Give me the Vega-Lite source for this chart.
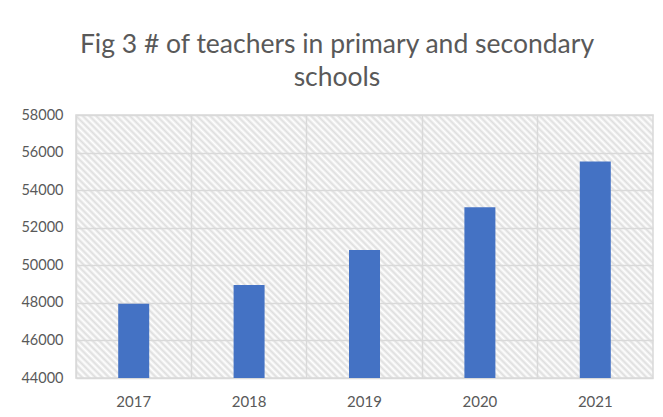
{
  "$schema": "https://vega.github.io/schema/vega-lite/v6.json",
  "width": 577,
  "height": 263,
  "padding": {"left": 20, "top": 31, "right": 10, "bottom": 5},
  "background": "white",
  "title": {
    "text": ["Fig 3 # of teachers in primary and secondary", "schools"],
    "font": "Lato",
    "fontSize": 26.5,
    "fontWeight": "normal",
    "color": "#595959",
    "lineHeight": 33,
    "anchor": "middle",
    "frame": "bounds",
    "offset": 16
  },
  "data": {
    "values": [
      {"year": "2017", "teachers": 47950},
      {"year": "2018", "teachers": 48950},
      {"year": "2019", "teachers": 50820},
      {"year": "2020", "teachers": 53090},
      {"year": "2021", "teachers": 55530}
    ]
  },
  "mark": {"type": "bar", "width": 31, "color": "#4472c4", "clip": true},
  "encoding": {
    "x": {
      "field": "year",
      "type": "nominal",
      "scale": {"paddingInner": 0, "paddingOuter": 0},
      "axis": {
        "title": null,
        "labelAngle": 0,
        "labelFont": "Lato",
        "labelFontSize": 15,
        "labelColor": "#595959",
        "labelPadding": 16,
        "ticks": false,
        "domain": false,
        "grid": true,
        "bandPosition": 0,
        "gridColor": "#d9d9d9",
        "gridWidth": 1.5
      }
    },
    "y": {
      "field": "teachers",
      "type": "quantitative",
      "scale": {"domain": [44000, 58000], "nice": false, "zero": false},
      "axis": {
        "title": null,
        "values": [44000, 46000, 48000, 50000, 52000, 54000, 56000, 58000],
        "format": "d",
        "labelFont": "Lato",
        "labelFontSize": 14.5,
        "labelColor": "#595959",
        "labelPadding": 13,
        "ticks": false,
        "domain": false,
        "gridColor": "#d9d9d9",
        "gridWidth": 1.5
      }
    }
  },
  "config": {
    "view": {
      "stroke": "#d9d9d9",
      "strokeWidth": 1.5,
      "fill": {
        "gradient": "linear",
        "x1": 0, "y1": 1, "x2": 1.2054, "y2": 0.4506,
        "stops": [
          {"offset": 0, "color": "#dedede"}, {"offset": 0.004, "color": "#ffffff"},
          {"offset": 0.008, "color": "#dedede"}, {"offset": 0.012, "color": "#ffffff"},
          {"offset": 0.016, "color": "#dedede"}, {"offset": 0.02, "color": "#ffffff"},
          {"offset": 0.024, "color": "#dedede"}, {"offset": 0.028, "color": "#ffffff"},
          {"offset": 0.032, "color": "#dedede"}, {"offset": 0.036, "color": "#ffffff"},
          {"offset": 0.04, "color": "#dedede"}, {"offset": 0.044, "color": "#ffffff"},
          {"offset": 0.048, "color": "#dedede"}, {"offset": 0.052, "color": "#ffffff"},
          {"offset": 0.056, "color": "#dedede"}, {"offset": 0.06, "color": "#ffffff"},
          {"offset": 0.064, "color": "#dedede"}, {"offset": 0.068, "color": "#ffffff"},
          {"offset": 0.072, "color": "#dedede"}, {"offset": 0.076, "color": "#ffffff"},
          {"offset": 0.08, "color": "#dedede"}, {"offset": 0.084, "color": "#ffffff"},
          {"offset": 0.088, "color": "#dedede"}, {"offset": 0.092, "color": "#ffffff"},
          {"offset": 0.096, "color": "#dedede"}, {"offset": 0.1, "color": "#ffffff"},
          {"offset": 0.104, "color": "#dedede"}, {"offset": 0.108, "color": "#ffffff"},
          {"offset": 0.112, "color": "#dedede"}, {"offset": 0.116, "color": "#ffffff"},
          {"offset": 0.12, "color": "#dedede"}, {"offset": 0.124, "color": "#ffffff"},
          {"offset": 0.128, "color": "#dedede"}, {"offset": 0.132, "color": "#ffffff"},
          {"offset": 0.136, "color": "#dedede"}, {"offset": 0.14, "color": "#ffffff"},
          {"offset": 0.144, "color": "#dedede"}, {"offset": 0.148, "color": "#ffffff"},
          {"offset": 0.152, "color": "#dedede"}, {"offset": 0.156, "color": "#ffffff"},
          {"offset": 0.16, "color": "#dedede"}, {"offset": 0.164, "color": "#ffffff"},
          {"offset": 0.168, "color": "#dedede"}, {"offset": 0.172, "color": "#ffffff"},
          {"offset": 0.176, "color": "#dedede"}, {"offset": 0.18, "color": "#ffffff"},
          {"offset": 0.184, "color": "#dedede"}, {"offset": 0.188, "color": "#ffffff"},
          {"offset": 0.192, "color": "#dedede"}, {"offset": 0.196, "color": "#ffffff"},
          {"offset": 0.2, "color": "#dedede"}, {"offset": 0.204, "color": "#ffffff"},
          {"offset": 0.208, "color": "#dedede"}, {"offset": 0.212, "color": "#ffffff"},
          {"offset": 0.216, "color": "#dedede"}, {"offset": 0.22, "color": "#ffffff"},
          {"offset": 0.224, "color": "#dedede"}, {"offset": 0.228, "color": "#ffffff"},
          {"offset": 0.232, "color": "#dedede"}, {"offset": 0.236, "color": "#ffffff"},
          {"offset": 0.24, "color": "#dedede"}, {"offset": 0.244, "color": "#ffffff"},
          {"offset": 0.248, "color": "#dedede"}, {"offset": 0.252, "color": "#ffffff"},
          {"offset": 0.256, "color": "#dedede"}, {"offset": 0.26, "color": "#ffffff"},
          {"offset": 0.264, "color": "#dedede"}, {"offset": 0.268, "color": "#ffffff"},
          {"offset": 0.272, "color": "#dedede"}, {"offset": 0.276, "color": "#ffffff"},
          {"offset": 0.28, "color": "#dedede"}, {"offset": 0.284, "color": "#ffffff"},
          {"offset": 0.288, "color": "#dedede"}, {"offset": 0.292, "color": "#ffffff"},
          {"offset": 0.296, "color": "#dedede"}, {"offset": 0.3, "color": "#ffffff"},
          {"offset": 0.304, "color": "#dedede"}, {"offset": 0.308, "color": "#ffffff"},
          {"offset": 0.312, "color": "#dedede"}, {"offset": 0.316, "color": "#ffffff"},
          {"offset": 0.32, "color": "#dedede"}, {"offset": 0.324, "color": "#ffffff"},
          {"offset": 0.328, "color": "#dedede"}, {"offset": 0.332, "color": "#ffffff"},
          {"offset": 0.336, "color": "#dedede"}, {"offset": 0.34, "color": "#ffffff"},
          {"offset": 0.344, "color": "#dedede"}, {"offset": 0.348, "color": "#ffffff"},
          {"offset": 0.352, "color": "#dedede"}, {"offset": 0.356, "color": "#ffffff"},
          {"offset": 0.36, "color": "#dedede"}, {"offset": 0.364, "color": "#ffffff"},
          {"offset": 0.368, "color": "#dedede"}, {"offset": 0.372, "color": "#ffffff"},
          {"offset": 0.376, "color": "#dedede"}, {"offset": 0.38, "color": "#ffffff"},
          {"offset": 0.384, "color": "#dedede"}, {"offset": 0.388, "color": "#ffffff"},
          {"offset": 0.392, "color": "#dedede"}, {"offset": 0.396, "color": "#ffffff"},
          {"offset": 0.4, "color": "#dedede"}, {"offset": 0.404, "color": "#ffffff"},
          {"offset": 0.408, "color": "#dedede"}, {"offset": 0.412, "color": "#ffffff"},
          {"offset": 0.416, "color": "#dedede"}, {"offset": 0.42, "color": "#ffffff"},
          {"offset": 0.424, "color": "#dedede"}, {"offset": 0.428, "color": "#ffffff"},
          {"offset": 0.432, "color": "#dedede"}, {"offset": 0.436, "color": "#ffffff"},
          {"offset": 0.44, "color": "#dedede"}, {"offset": 0.444, "color": "#ffffff"},
          {"offset": 0.448, "color": "#dedede"}, {"offset": 0.452, "color": "#ffffff"},
          {"offset": 0.456, "color": "#dedede"}, {"offset": 0.46, "color": "#ffffff"},
          {"offset": 0.464, "color": "#dedede"}, {"offset": 0.468, "color": "#ffffff"},
          {"offset": 0.472, "color": "#dedede"}, {"offset": 0.476, "color": "#ffffff"},
          {"offset": 0.48, "color": "#dedede"}, {"offset": 0.484, "color": "#ffffff"},
          {"offset": 0.488, "color": "#dedede"}, {"offset": 0.492, "color": "#ffffff"},
          {"offset": 0.496, "color": "#dedede"}, {"offset": 0.5, "color": "#ffffff"},
          {"offset": 0.504, "color": "#dedede"}, {"offset": 0.508, "color": "#ffffff"},
          {"offset": 0.512, "color": "#dedede"}, {"offset": 0.516, "color": "#ffffff"},
          {"offset": 0.52, "color": "#dedede"}, {"offset": 0.524, "color": "#ffffff"},
          {"offset": 0.528, "color": "#dedede"}, {"offset": 0.532, "color": "#ffffff"},
          {"offset": 0.536, "color": "#dedede"}, {"offset": 0.54, "color": "#ffffff"},
          {"offset": 0.544, "color": "#dedede"}, {"offset": 0.548, "color": "#ffffff"},
          {"offset": 0.552, "color": "#dedede"}, {"offset": 0.556, "color": "#ffffff"},
          {"offset": 0.56, "color": "#dedede"}, {"offset": 0.564, "color": "#ffffff"},
          {"offset": 0.568, "color": "#dedede"}, {"offset": 0.572, "color": "#ffffff"},
          {"offset": 0.576, "color": "#dedede"}, {"offset": 0.58, "color": "#ffffff"},
          {"offset": 0.584, "color": "#dedede"}, {"offset": 0.588, "color": "#ffffff"},
          {"offset": 0.592, "color": "#dedede"}, {"offset": 0.596, "color": "#ffffff"},
          {"offset": 0.6, "color": "#dedede"}, {"offset": 0.604, "color": "#ffffff"},
          {"offset": 0.608, "color": "#dedede"}, {"offset": 0.612, "color": "#ffffff"},
          {"offset": 0.616, "color": "#dedede"}, {"offset": 0.62, "color": "#ffffff"},
          {"offset": 0.624, "color": "#dedede"}, {"offset": 0.628, "color": "#ffffff"},
          {"offset": 0.632, "color": "#dedede"}, {"offset": 0.636, "color": "#ffffff"},
          {"offset": 0.64, "color": "#dedede"}, {"offset": 0.644, "color": "#ffffff"},
          {"offset": 0.648, "color": "#dedede"}, {"offset": 0.652, "color": "#ffffff"},
          {"offset": 0.656, "color": "#dedede"}, {"offset": 0.66, "color": "#ffffff"},
          {"offset": 0.664, "color": "#dedede"}, {"offset": 0.668, "color": "#ffffff"},
          {"offset": 0.672, "color": "#dedede"}, {"offset": 0.676, "color": "#ffffff"},
          {"offset": 0.68, "color": "#dedede"}, {"offset": 0.684, "color": "#ffffff"},
          {"offset": 0.688, "color": "#dedede"}, {"offset": 0.692, "color": "#ffffff"},
          {"offset": 0.696, "color": "#dedede"}, {"offset": 0.7, "color": "#ffffff"},
          {"offset": 0.704, "color": "#dedede"}, {"offset": 0.708, "color": "#ffffff"},
          {"offset": 0.712, "color": "#dedede"}, {"offset": 0.716, "color": "#ffffff"},
          {"offset": 0.72, "color": "#dedede"}, {"offset": 0.724, "color": "#ffffff"},
          {"offset": 0.728, "color": "#dedede"}, {"offset": 0.732, "color": "#ffffff"},
          {"offset": 0.736, "color": "#dedede"}, {"offset": 0.74, "color": "#ffffff"},
          {"offset": 0.744, "color": "#dedede"}, {"offset": 0.748, "color": "#ffffff"},
          {"offset": 0.752, "color": "#dedede"}, {"offset": 0.756, "color": "#ffffff"},
          {"offset": 0.76, "color": "#dedede"}, {"offset": 0.764, "color": "#ffffff"},
          {"offset": 0.768, "color": "#dedede"}, {"offset": 0.772, "color": "#ffffff"},
          {"offset": 0.776, "color": "#dedede"}, {"offset": 0.78, "color": "#ffffff"},
          {"offset": 0.784, "color": "#dedede"}, {"offset": 0.788, "color": "#ffffff"},
          {"offset": 0.792, "color": "#dedede"}, {"offset": 0.796, "color": "#ffffff"},
          {"offset": 0.8, "color": "#dedede"}, {"offset": 0.804, "color": "#ffffff"},
          {"offset": 0.808, "color": "#dedede"}, {"offset": 0.812, "color": "#ffffff"},
          {"offset": 0.816, "color": "#dedede"}, {"offset": 0.82, "color": "#ffffff"},
          {"offset": 0.824, "color": "#dedede"}, {"offset": 0.828, "color": "#ffffff"},
          {"offset": 0.832, "color": "#dedede"}, {"offset": 0.836, "color": "#ffffff"},
          {"offset": 0.84, "color": "#dedede"}, {"offset": 0.844, "color": "#ffffff"},
          {"offset": 0.848, "color": "#dedede"}, {"offset": 0.852, "color": "#ffffff"},
          {"offset": 0.856, "color": "#dedede"}, {"offset": 0.86, "color": "#ffffff"},
          {"offset": 0.864, "color": "#dedede"}, {"offset": 0.868, "color": "#ffffff"},
          {"offset": 0.872, "color": "#dedede"}, {"offset": 0.876, "color": "#ffffff"},
          {"offset": 0.88, "color": "#dedede"}, {"offset": 0.884, "color": "#ffffff"},
          {"offset": 0.888, "color": "#dedede"}, {"offset": 0.892, "color": "#ffffff"},
          {"offset": 0.896, "color": "#dedede"}, {"offset": 0.9, "color": "#ffffff"},
          {"offset": 0.904, "color": "#dedede"}, {"offset": 0.908, "color": "#ffffff"},
          {"offset": 0.912, "color": "#dedede"}, {"offset": 0.916, "color": "#ffffff"},
          {"offset": 0.92, "color": "#dedede"}, {"offset": 0.924, "color": "#ffffff"},
          {"offset": 0.928, "color": "#dedede"}, {"offset": 0.932, "color": "#ffffff"},
          {"offset": 0.936, "color": "#dedede"}, {"offset": 0.94, "color": "#ffffff"},
          {"offset": 0.944, "color": "#dedede"}, {"offset": 0.948, "color": "#ffffff"},
          {"offset": 0.952, "color": "#dedede"}, {"offset": 0.956, "color": "#ffffff"},
          {"offset": 0.96, "color": "#dedede"}, {"offset": 0.964, "color": "#ffffff"},
          {"offset": 0.968, "color": "#dedede"}, {"offset": 0.972, "color": "#ffffff"},
          {"offset": 0.976, "color": "#dedede"}, {"offset": 0.98, "color": "#ffffff"},
          {"offset": 0.984, "color": "#dedede"}, {"offset": 0.988, "color": "#ffffff"},
          {"offset": 0.992, "color": "#dedede"}, {"offset": 0.996, "color": "#ffffff"},
          {"offset": 1, "color": "#dedede"}
        ]
      }
    }
  }
}
